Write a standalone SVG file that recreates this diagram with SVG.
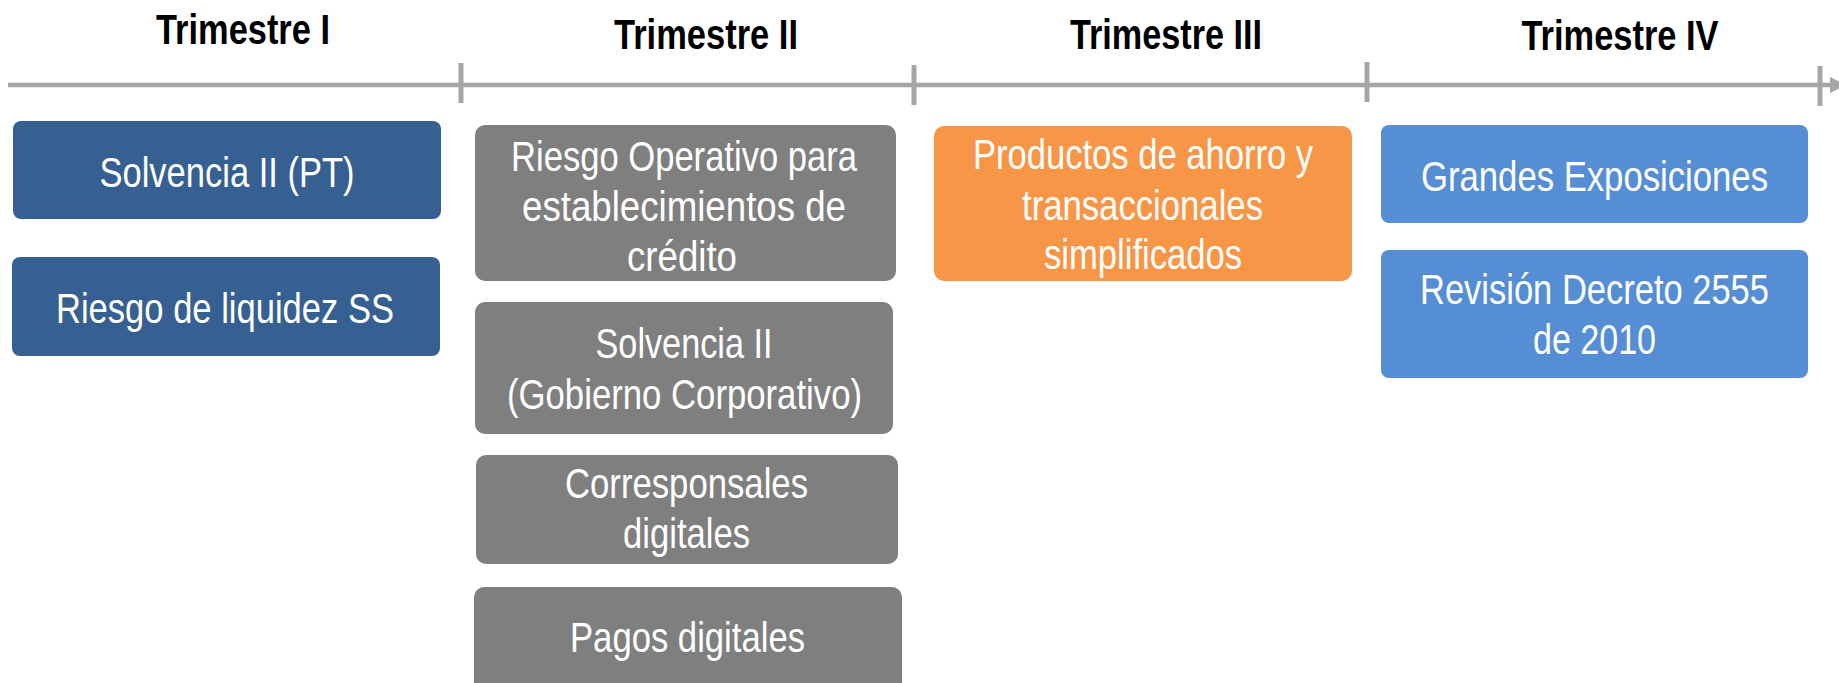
<svg xmlns="http://www.w3.org/2000/svg" width="1839" height="683" viewBox="0 0 1839 683">
  <style>
    .hdr { font-family: "Liberation Sans Narrow", "Arial Narrow", "Liberation Sans", Arial, sans-serif; font-weight: bold; font-size: 42px; fill: #000000; text-anchor: middle; }
    .lbl { font-family: "Liberation Sans Narrow", "Arial Narrow", "Liberation Sans", Arial, sans-serif; font-size: 42px; fill: #FFFFFF; text-anchor: middle; }
    .dblue { fill: #376092; }
    .gray { fill: #7F7F7F; }
    .orange { fill: #F79646; }
    .lblue { fill: #558ED5; }
    .axis { stroke: #A6A6A6; stroke-width: 4.5; fill: none; }
    .tick { stroke: #A6A6A6; stroke-width: 5; }
  </style>
  <defs>
    <marker id="arrow" markerWidth="3.6" markerHeight="3.6" refX="0" refY="1.8" orient="auto" markerUnits="strokeWidth">
      <path d="M0,0 L3.6,1.8 L0,3.6 Z" fill="#A6A6A6"/>
    </marker>
  </defs>
  <rect width="1839" height="683" fill="#FFFFFF"/>

  <g id="headers">
    <text class="hdr" x="243" y="44" textLength="174" lengthAdjust="spacingAndGlyphs">Trimestre I</text>
    <text class="hdr" x="706" y="49" textLength="184" lengthAdjust="spacingAndGlyphs">Trimestre II</text>
    <text class="hdr" x="1166" y="49" textLength="192" lengthAdjust="spacingAndGlyphs">Trimestre III</text>
    <text class="hdr" x="1620" y="50" textLength="197" lengthAdjust="spacingAndGlyphs">Trimestre IV</text>
  </g>

  <g id="connectors">
    <line class="axis" x1="8" y1="85" x2="1830" y2="85" marker-end="url(#arrow)"/>
    <line class="tick" x1="461" y1="63" x2="461" y2="103"/>
    <line class="tick" x1="914" y1="65" x2="914" y2="105"/>
    <line class="tick" x1="1367" y1="62" x2="1367" y2="102"/>
    <line class="tick" x1="1820" y1="66" x2="1820" y2="106"/>
  </g>

  <g id="node-solvencia-pt">
    <rect class="dblue" x="13" y="121" width="428" height="98" rx="8"/>
    <text class="lbl" x="227" y="187" textLength="255" lengthAdjust="spacingAndGlyphs">Solvencia II (PT)</text>
  </g>
  <g id="node-riesgo-liquidez">
    <rect class="dblue" x="12" y="257" width="428" height="99" rx="8"/>
    <text class="lbl" x="225" y="323" textLength="338" lengthAdjust="spacingAndGlyphs">Riesgo de liquidez SS</text>
  </g>

  <g id="node-riesgo-operativo">
    <rect class="gray" x="475" y="125" width="421" height="156" rx="10"/>
    <text class="lbl" x="684" y="171" textLength="346" lengthAdjust="spacingAndGlyphs">Riesgo Operativo para</text>
    <text class="lbl" x="684" y="221" textLength="324" lengthAdjust="spacingAndGlyphs">establecimientos de</text>
    <text class="lbl" x="682" y="271" textLength="110" lengthAdjust="spacingAndGlyphs">crédito</text>
  </g>
  <g id="node-solvencia-gobierno">
    <rect class="gray" x="475" y="302" width="418" height="132" rx="10"/>
    <text class="lbl" x="684" y="358" textLength="177" lengthAdjust="spacingAndGlyphs">Solvencia II</text>
    <text class="lbl" x="684.5" y="409" textLength="355" lengthAdjust="spacingAndGlyphs">(Gobierno Corporativo)</text>
  </g>
  <g id="node-corresponsales">
    <rect class="gray" x="476" y="455" width="422" height="109" rx="10"/>
    <text class="lbl" x="686.5" y="498" textLength="243" lengthAdjust="spacingAndGlyphs">Corresponsales</text>
    <text class="lbl" x="686.5" y="548" textLength="127" lengthAdjust="spacingAndGlyphs">digitales</text>
  </g>
  <g id="node-pagos">
    <rect class="gray" x="474" y="587" width="428" height="110" rx="10"/>
    <text class="lbl" x="687.5" y="652" textLength="235" lengthAdjust="spacingAndGlyphs">Pagos digitales</text>
  </g>

  <g id="node-productos">
    <rect class="orange" x="934" y="126" width="418" height="155" rx="10"/>
    <text class="lbl" x="1143" y="169" textLength="340" lengthAdjust="spacingAndGlyphs">Productos de ahorro y</text>
    <text class="lbl" x="1142.5" y="220" textLength="241" lengthAdjust="spacingAndGlyphs">transaccionales</text>
    <text class="lbl" x="1143" y="269" textLength="198" lengthAdjust="spacingAndGlyphs">simplificados</text>
  </g>

  <g id="node-grandes">
    <rect class="lblue" x="1381" y="125" width="427" height="98" rx="8"/>
    <text class="lbl" x="1594.5" y="191" textLength="347" lengthAdjust="spacingAndGlyphs">Grandes Exposiciones</text>
  </g>
  <g id="node-decreto">
    <rect class="lblue" x="1381" y="250" width="427" height="128" rx="8"/>
    <text class="lbl" x="1594.5" y="304" textLength="349" lengthAdjust="spacingAndGlyphs">Revisión Decreto 2555</text>
    <text class="lbl" x="1594.5" y="354" textLength="123" lengthAdjust="spacingAndGlyphs">de 2010</text>
  </g>
</svg>
